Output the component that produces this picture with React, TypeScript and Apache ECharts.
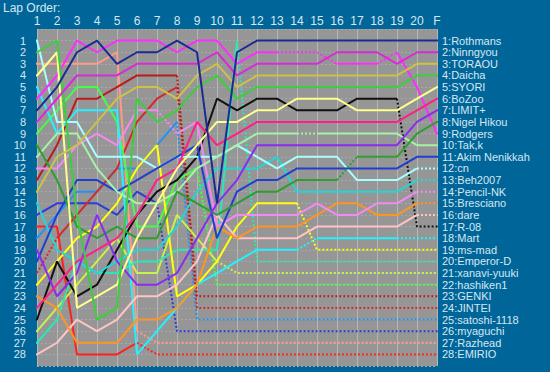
import React, { useEffect, useRef } from "react";
import * as echarts from "echarts";

const lapLabels = ["1","2","3","4","5","6","7","8","9","10","11","12","13","14","15","16","17","18","19","20","F"];

const names = ["Rothmans","Ninngyou","TORAOU","Daicha","SYORI","BoZoo","LIMIT+","Nigel Hikou","Rodgers","Tak,k","Akim Nenikkah","cn","Beh2007","Pencil-NK","Bresciano","dare","R-08","Mart","ms-mad","Emperor-D","xanavi-yuuki","hashiken1","GENKI","JINTEI","satoshi-1118","myaguchi","Razhead","EMIRIO"];

const colors = ["#1c2a94","#d82ad8","#cbc247","#3ccf3c","#ffff8c","#ff1f86","#8a2cf0","#2e9e2e","#ff2cff","#a6f2a6","#1f3fcf","#a8ffff","#22d6d6","#f38af3","#ff9424","#ffc4c4","#111111","#22f2ff","#ffff10","#2ee6b4","#c6f24a","#44ff44","#b81c1c","#d42a2a","#2492f2","#2e3ed4","#ff9a86","#ff2020"];

// positions per lap (1..20, F), one array per driver in finishing order
const p01 = [7,5,2,1,3,2,2,1,2,15,2,1,1,1,1,1,1,1,1,1,1];
const p02 = [8,6,4,4,4,3,3,3,3,2,4,3,3,3,3,2,2,2,3,2,2];
const p03 = [14,11,10,8,6,5,5,6,4,3,5,4,4,4,4,4,4,4,4,3,3];
const p04 = [2,1,16,25,24,6,8,7,5,4,6,5,5,5,5,5,5,5,5,4,4];
const p05 = [4,2,24,23,22,18,15,12,10,8,8,7,7,6,6,6,7,7,7,6,5];
const p06 = [24,22,20,19,18,16,13,12,8,10,9,8,8,8,8,8,8,8,8,7,6];
const p07 = [19,23,21,16,20,22,22,21,18,15,13,10,10,10,10,10,10,10,10,8,7];
const p08 = [10,13,17,18,17,18,18,14,15,16,15,14,14,13,13,13,11,11,11,9,8];
const p09 = [6,4,1,2,1,1,1,2,1,1,3,2,2,2,2,3,3,3,2,5,9];
const p10 = [11,9,9,12,14,15,15,14,12,11,10,9,9,9,9,9,9,9,9,10,10];
const p11 = [20,16,13,13,14,13,12,11,10,18,14,13,13,12,12,12,12,12,12,11,11];
const p12 = [1,8,8,11,11,11,12,11,11,11,10,11,12,11,11,11,13,13,13,12,12];
const p13 = [15,19,20,21,20,19,19,17,14,12,12,12,11,14,14,14,14,14,14,13,13];
const p14 = [12,12,10,9,10,7,7,9,8,17,16,16,16,16,15,16,16,15,15,14,14];
const p15 = [23,24,27,27,27,25,25,24,22,17,18,17,17,17,16,15,15,16,16,15,15];
const p16 = [28,27,25,26,25,23,23,22,20,16,18,18,18,18,17,17,17,17,17,16,16];
const p17 = [25,20,23,22,19,16,14,13,11,6,7,6,6,7,7,7,6,6,6,17,17];
const p18 = [5,9,7,7,7,28,26,24,22,21,20,19,19,19,18,18,18,18,18,null,18];
const p19 = [22,20,18,17,15,12,10,23,22,20,17,15,15,15,19,19,19,19,19,19,19];
const p20 = [27,25,20,21,21,20,20,19,19,19,1,20,20,20,20,20,20,20,20,20,20];
const p21 = [26,24,22,20,18,21,21,16,18,20,21,21,21,21,21,21,21,21,21,21,21];
const p22 = [9,7,5,5,8,17,17,13,12,22,22,22,22,22,22,22,22,22,22,22,22];
const p23 = [13,10,6,6,5,4,4,4,23,23,23,23,23,23,23,23,23,23,23,23,23];
const p24 = [21,18,16,14,12,8,6,5,24,24,24,24,24,24,24,24,24,24,24,24,24];
const p25 = [18,16,14,14,12,12,10,8,25,25,25,25,25,25,25,25,25,25,25,25,25];
const p26 = [16,15,15,15,16,14,15,26,26,26,26,26,26,26,26,26,26,26,26,26,26];
const p27 = [3,3,3,3,2,26,27,27,27,27,27,27,27,27,27,27,27,27,27,27,27];
const p28 = [17,17,28,28,28,27,28,28,28,28,28,28,28,28,28,28,28,28,28,28,28];

const positions: (number | null)[][] = [p01,p02,p03,p04,p05,p06,p07,p08,p09,p10,p11,p12,p13,p14,p15,p16,p17,p18,p19,p20,p21,p22,p23,p24,p25,p26,p27,p28];

// last lap run normally (after it the line is dotted), null = ran to the flag
const lastLap: (number | null)[] = [null,null,null,null,null,null,null,null,null,null,null,20,20,20,20,20,19,19,14,11,10,9,8,8,8,7,6,6];
// laps after which a single dotted lap follows (pit laps)
const pitLaps: number[][] = [[],[],[],[],[],[],[],[16],[13,14,15,18],[14],[],[],[],[7],[],[],[],[14],[],[],[],[],[],[1],[],[],[],[]];

const TEXT = "#d6e6f2";
const FONT = "Liberation Sans, Arial, sans-serif";

function buildSeries() {
  const series: any[] = [];
  positions.forEach((vals, d) => {
    const pts: [number, number][] = [];
    pts.push([0.6, vals[0] as number]);
    vals.forEach((v, i) => {
      if (v != null) pts.push([i + 1, v]);
    });
    pts.push([21.2, vals[20] as number]);
    const dottedAt = (a: number, b: number): boolean => {
      if (b - a > 1.5 && a >= 1) return true;
      const last = lastLap[d];
      if (last != null && a >= last) return true;
      if (pitLaps[d].includes(a)) return true;
      return false;
    };
    const styles: boolean[] = [];
    for (let k = 0; k < pts.length - 1; k++) {
      styles.push(dottedAt(pts[k][0], pts[k + 1][0]));
    }
    styles[0] = styles[1] || pitLaps[d].includes(1);
    styles[styles.length - 1] = styles[styles.length - 2];
    let runStart = 0;
    for (let k = 1; k <= styles.length; k++) {
      if (k === styles.length || styles[k] !== styles[runStart]) {
        const runPts = pts.slice(runStart, k + 1);
        series.push({
          type: "line",
          name: names[d],
          data: runPts,
          symbol: "none",
          clip: false,
          silent: true,
          z: 3 + (28 - d) / 100,
          lineStyle: {
            color: colors[d],
            width: 2,
            type: styles[runStart] ? [2, 2] : "solid",
          },
        });
        runStart = k;
      }
    }
  });
  return series;
}

export default function App() {
  const ref = useRef<HTMLDivElement>(null);
  useEffect(() => {
    if (!ref.current) return;
    const chart = echarts.init(ref.current, null, { renderer: "svg" });
    const label = { color: TEXT, fontSize: 11, lineHeight: 11, fontFamily: FONT };
    chart.setOption({
      animation: false,
      backgroundColor: "#006699",
      textStyle: { fontFamily: FONT },
      title: {
        text: "Lap Order:",
        left: 3,
        top: 2,
        padding: 0,
        textStyle: { color: TEXT, fontSize: 12, lineHeight: 12, fontWeight: "normal", fontFamily: FONT },
      },
      grid: {
        left: 37,
        right: 113,
        top: 29,
        bottom: 6,
        show: true,
        backgroundColor: "#969696",
        borderWidth: 0,
      },
      xAxis: {
        type: "value",
        min: 1,
        max: 21,
        interval: 1,
        position: "top",
        axisLine: { show: false },
        axisTick: { show: false },
        axisLabel: {
          ...label,
          fontSize: 12,
          lineHeight: 12,
          margin: 2,
          formatter: (v: number) => lapLabels[v - 1] ?? "",
        },
        splitLine: { show: true, lineStyle: { color: "#b6b6b6", width: 1 } },
      },
      yAxis: [
        {
          type: "value",
          inverse: true,
          min: 0,
          max: 29,
          interval: 1,
          axisLine: { show: false },
          axisTick: { show: false },
          axisLabel: {
            ...label,
            margin: 11,
            formatter: (v: number) => (v >= 1 && v <= 28 ? String(v) : ""),
          },
          splitLine: { show: true, lineStyle: { color: "#a8a8a8", width: 1, type: [2, 2] } },
        },
        {
          type: "value",
          inverse: true,
          min: 0,
          max: 29,
          interval: 1,
          position: "right",
          axisLine: { show: false },
          axisTick: { show: false },
          splitLine: { show: false },
          axisLabel: {
            ...label,
            margin: 5,
            formatter: (v: number) => (v >= 1 && v <= 28 ? `${v}:${names[v - 1]}` : ""),
          },
        },
      ],
      series: buildSeries(),
    });
    return () => chart.dispose();
  }, []);
  return (
    <div
      ref={ref}
      style={{ position: "fixed", left: 0, top: 0, width: 550, height: 372 }}
    />
  );
}
